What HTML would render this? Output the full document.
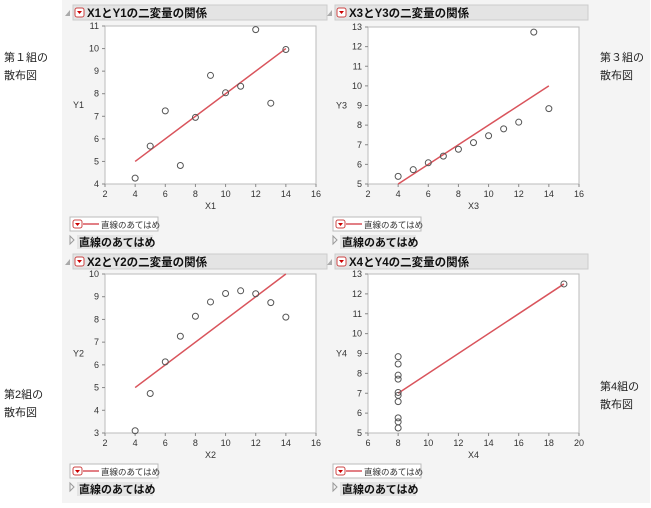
<!DOCTYPE html>
<html><head><meta charset="utf-8"><style>
body{margin:0;width:651px;height:503px;background:#fff;overflow:hidden;font-family:"Liberation Sans","Noto Sans CJK JP",sans-serif;}
svg text{font-family:"Liberation Sans","Noto Sans CJK JP",sans-serif;}
</style></head><body>
<svg id="s" width="651" height="503" xmlns="http://www.w3.org/2000/svg">
<rect x="62" y="0" width="588" height="503" fill="#f4f4f4"/>
<text x="4" y="61" font-size="11" fill="#222">第１組の</text>
<text x="4" y="79" font-size="11" fill="#222">散布図</text>
<text x="600" y="61" font-size="11" fill="#222">第３組の</text>
<text x="600" y="79" font-size="11" fill="#222">散布図</text>
<text x="4" y="398" font-size="11" fill="#222">第2組の</text>
<text x="4" y="416" font-size="11" fill="#222">散布図</text>
<text x="600" y="390" font-size="11" fill="#222">第4組の</text>
<text x="600" y="408" font-size="11" fill="#222">散布図</text>
</svg>
<script>
const s=document.getElementById('s');let h='';
const X=[10,8,13,9,11,14,6,4,12,7,5];
const P=[
{hx:73,hy:5,title:'X1とY1の二変量の関係',fx:105,fy:26,fw:211,fh:158,xmin:2,xmax:16,xs:2,ymin:4,ymax:11,xl:'X1',yl:'Y1',xd:X,yd:[8.04,6.95,7.58,8.81,8.33,9.96,7.24,4.26,10.84,4.82,5.68],l:[4,14],ly:220},
{hx:335,hy:5,title:'X3とY3の二変量の関係',fx:368,fy:27,fw:211,fh:157,xmin:2,xmax:16,xs:2,ymin:5,ymax:13,xl:'X3',yl:'Y3',xd:X,yd:[7.46,6.77,12.74,7.11,7.81,8.84,6.08,5.39,8.15,6.42,5.73],l:[4,14],ly:220},
{hx:73,hy:254,title:'X2とY2の二変量の関係',fx:105,fy:274,fw:211,fh:159,xmin:2,xmax:16,xs:2,ymin:3,ymax:10,xl:'X2',yl:'Y2',xd:X,yd:[9.14,8.14,8.74,8.77,9.26,8.10,6.13,3.10,9.13,7.26,4.74],l:[4,14],ly:467},
{hx:335,hy:254,title:'X4とY4の二変量の関係',fx:368,fy:274,fw:211,fh:159,xmin:6,xmax:20,xs:2,ymin:5,ymax:13,xl:'X4',yl:'Y4',xd:[8,8,8,8,8,8,8,19,8,8,8],yd:[6.58,5.76,7.71,8.84,8.47,7.04,5.25,12.50,5.56,7.91,6.89],l:[8,19],ly:467,a4:1}];
for(const p of P){
 const px=v=>p.fx+(v-p.xmin)/(p.xmax-p.xmin)*p.fw, py=v=>p.fy+p.fh-(v-p.ymin)/(p.ymax-p.ymin)*p.fh;
 h+=`<rect x="${p.hx}" y="${p.hy}" width="${p.hx<300?254:253}" height="15" fill="#e4e4e4" stroke="#ccc"/>`;
 h+=`<path d="M${p.hx-8} ${p.hy+11}l5 -6v6z" fill="#aaa"/>`;
 h+=`<rect x="${p.hx+2}" y="${p.hy+3}" width="9" height="9" rx="2" fill="#fff" stroke="#c44"/><path d="M${p.hx+4} ${p.hy+6}h5l-2.5 3z" fill="#c00"/>`;
 h+=`<text x="${p.hx+14}" y="${p.hy+12}" font-size="11.5" font-weight="bold" fill="#111">${p.title}</text>`;
 h+=`<rect x="${p.fx}" y="${p.fy}" width="${p.fw}" height="${p.fh}" fill="#fff" stroke="#bbb"/>`;
 for(let v=p.xmin;v<=p.xmax;v+=p.xs){const x=px(v);h+=`<line x1="${x}" y1="${p.fy+p.fh}" x2="${x}" y2="${p.fy+p.fh+3}" stroke="#888"/><text x="${x}" y="${p.fy+p.fh+13}" font-size="9" fill="#333" text-anchor="middle">${v}</text>`;}
 for(let v=p.ymin;v<=p.ymax;v++){const y=py(v);h+=`<line x1="${p.fx-3}" y1="${y}" x2="${p.fx}" y2="${y}" stroke="#888"/><text x="${p.fx-6}" y="${y+3}" font-size="9" fill="#333" text-anchor="end">${v}</text>`;}
 h+=`<text x="${p.fx+p.fw/2}" y="${p.fy+p.fh+25}" font-size="9" fill="#333" text-anchor="middle">${p.xl}</text>`;
 h+=`<text x="${p.fx-32}" y="${p.fy+p.fh/2+3}" font-size="9" fill="#333">${p.yl}</text>`;
 const f=x=>p.a4?7+(x-8)*0.5:3+0.5*x;
 let x2=p.l[1],y2=f(x2); if(y2>p.ymax){y2=p.ymax;}
 h+=`<line x1="${px(p.l[0])}" y1="${py(f(p.l[0]))}" x2="${px(x2)}" y2="${py(y2)}" stroke="#d9545c" stroke-width="1.5"/>`;
 for(let i=0;i<11;i++)h+=`<circle cx="${px(p.xd[i])}" cy="${py(p.yd[i])}" r="3" fill="none" stroke="#555" stroke-width="1"/>`;
 const lx=p.fx-35;
 h+=`<rect x="${lx}" y="${p.ly-3}" width="88" height="14" fill="#fff" stroke="#bbb"/><rect x="${lx+3}" y="${p.ly}" width="9" height="8" rx="2" fill="#fff" stroke="#c44"/><path d="M${lx+5} ${p.ly+3}h5l-2.5 3z" fill="#c00"/><line x1="${lx+13}" y1="${p.ly+4}" x2="${lx+29}" y2="${p.ly+4}" stroke="#d9545c" stroke-width="1.5"/><text x="${lx+31}" y="${p.ly+8}" font-size="8.5" fill="#333">直線のあてはめ</text>`;
 h+=`<path d="M${lx} ${p.ly+16}l4 4l-4 4z" fill="none" stroke="#999"/><rect x="${lx+7}" y="${p.ly+15}" width="76" height="14" fill="#e4e4e4"/><text x="${lx+9}" y="${p.ly+26}" font-size="11" font-weight="bold" fill="#111">直線のあてはめ</text>`;
}
s.insertAdjacentHTML('beforeend',h);
</script>
</body></html>
